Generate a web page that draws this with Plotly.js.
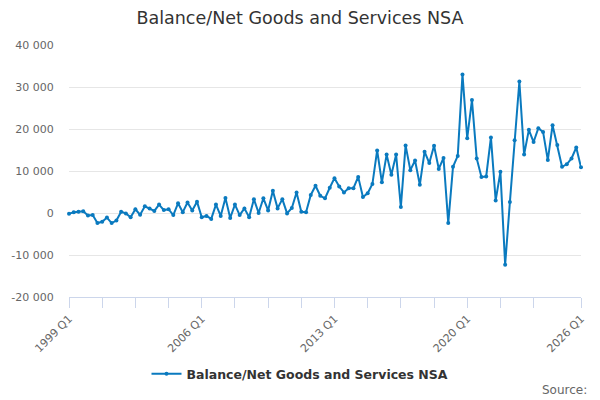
<!DOCTYPE html>
<html>
<head>
<meta charset="utf-8">
<script src="https://cdn.plot.ly/plotly-3.0.1.min.js"></script>
<style>
  html, body { margin: 0; padding: 0; background: #fff; }
  #chart { width: 600px; height: 400px; }
</style>
</head>
<body>
<div id="chart"></div>
<script>
// quarters 1999 Q1 .. 2026 Q1
var quarters = [];
for (var yr = 1999; yr <= 2026; yr++) {
  for (var q = 1; q <= 4; q++) {
    if (yr == 2026 && q > 1) break;
    quarters.push(yr + " Q" + q);
  }
}

var balance = [
  -200, 200, 300, 400, -600, -500, -2400, -2100, -1100, -2400, -1800, 300,
  -100, -1000, 900, -400, 1600, 1100, 500, 2000, 700, 900, -500, 2300,
  200, 2500, 600, 2700, -1000, -700, -1400, 2000, -700, 3600, -1200, 2000,
  -500, 1100, -1000, 3300, 0, 3500, 600, 5300, 1100, 3300, -100, 1200,
  4900, 300, 200, 4300, 6500, 4100, 3500, 6000, 8300, 6300, 4900, 5900,
  5900, 8600, 3800, 4700, 6900, 14900, 7300, 13900, 9100, 13900, 1400, 16100,
  10200, 12500, 6700, 14600, 11900, 16000, 10500, 13100, -2400, 11000, 13600, 33000,
  17800, 26900, 13000, 8600, 8700, 18000, 3000, 9800, -12300, 2600, 17300, 31300,
  13900, 19800, 16900, 20200, 19300, 12600, 20900, 16200, 11000, 11600, 13000, 15600,
  10900
];

var labelQuarters = ["1999 Q1", "2006 Q1", "2013 Q1", "2020 Q1", "2026 Q1"];
var yTickVals = [-20000, -10000, 0, 10000, 20000, 30000, 40000];
var yTickText = ["-20 000", "-10 000", "0", "10 000", "20 000", "30 000", "40 000"];

// a tick every 7 quarters, plus the last one
var xTickVals = [], xTickText = [];
for (var i = 0; i < quarters.length; i += 7) {
  if (i > quarters.length - 8) break;
  xTickVals.push(quarters[i]);
}
xTickVals.push(quarters[quarters.length - 1]);
xTickVals.forEach(function (c) {
  xTickText.push(labelQuarters.indexOf(c) >= 0 ? c : "");
});

var font = "DejaVu Sans, Verdana, sans-serif";

var trace = {
  x: quarters,
  y: balance,
  type: "scatter",
  mode: "lines+markers",
  name: "Balance/Net Goods and Services NSA",
  line: { color: "#0a7abf", width: 2 },
  marker: { color: "#0a7abf", size: 4 },
  cliponaxis: false,
  hoverinfo: "x+y"
};

var layout = {
  width: 600,
  height: 400,
  margin: { l: 69, r: 19, t: 45, b: 103 },
  paper_bgcolor: "#fff",
  plot_bgcolor: "#fff",
  font: { family: font, color: "#666", size: 11 },
  title: {
    text: "Balance/Net Goods and Services NSA",
    font: { family: font, size: 17.5, color: "#333" },
    x: 0.5,
    xanchor: "center",
    y: 0.955,
    yref: "container",
    yanchor: "middle"
  },
  xaxis: {
    type: "category",
    range: [0, quarters.length - 1],
    tickmode: "array",
    tickvals: xTickVals,
    ticktext: xTickText,
    tickangle: -45,
    ticks: "outside",
    ticklen: 10,
    tickcolor: "#ccd6eb",
    showline: true,
    linecolor: "#ccd6eb",
    showgrid: false,
    zeroline: false,
    tickfont: { family: font, size: 11, color: "#666" },
    fixedrange: true
  },
  yaxis: {
    range: [-20000, 40000],
    tickmode: "array",
    tickvals: yTickVals,
    ticktext: yTickText,
    gridcolor: "#e6e6e6",
    zeroline: false,
    showline: false,
    ticks: "outside",
    ticklen: 12,
    tickcolor: "rgba(0,0,0,0)",
    tickfont: { family: font, size: 11, color: "#666" },
    fixedrange: true
  },
  showlegend: true,
  legend: {
    orientation: "h",
    x: 0.5,
    xanchor: "center",
    xref: "container",
    y: 0.065,
    yref: "container",
    yanchor: "middle",
    font: { family: font, size: 12.5, color: "#333", weight: "bold" }
  },
  annotations: [{
    text: "Source:",
    xref: "paper",
    yref: "paper",
    x: 1.0156,
    xanchor: "right",
    y: -0.369,
    yanchor: "middle",
    showarrow: false,
    font: { family: font, size: 12, color: "#666" }
  }]
};

Plotly.newPlot("chart", [trace], layout, { displayModeBar: false, staticPlot: true });
</script>
</body>
</html>
